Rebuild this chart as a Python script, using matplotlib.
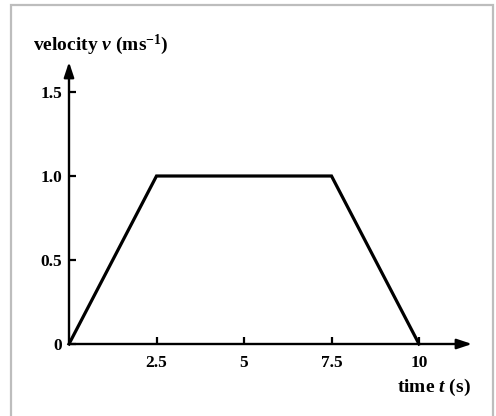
import matplotlib
matplotlib.use("Agg")
import matplotlib.pyplot as plt
from matplotlib.patches import Rectangle

# velocity-time graph
t = [0, 2.5, 7.5, 10]
v = [0, 1.0, 1.0, 0]
xticks = [2.5, 5, 7.5, 10]
xticklabels = ["2.5", "5", "7.5", "10"]
yticks = [0, 0.5, 1.0, 1.5]
yticklabels = ["0", "0.5", "1.0", "1.5"]

plt.rcParams["font.family"] = "Liberation Serif"
plt.rcParams["font.weight"] = "bold"
plt.rcParams["mathtext.fontset"] = "custom"
plt.rcParams["mathtext.rm"] = "Liberation Serif:bold"
plt.rcParams["mathtext.bf"] = "Liberation Serif:bold"
plt.rcParams["mathtext.it"] = "Liberation Serif:italic:bold"

W, H = 496, 416
fig = plt.figure(figsize=(W / 100, H / 100), dpi=100)

# grey frame around the figure
fig.patches.append(Rectangle((11 / W, -0.05), (493 - 11) / W, (411 - 0) / H + 0.05,
                             transform=fig.transFigure, fill=False,
                             edgecolor="#bdbdbd", linewidth=1.6))

x0, y0, x1, y1 = 69, 344, 472, 62
ax = fig.add_axes([x0 / W, (H - y0) / H, (x1 - x0) / W, (y0 - y1) / H])
xmax = (x1 - x0) / 35.0
ymax = (y0 - y1) / 168.0
ax.set_xlim(0, xmax)
ax.set_ylim(0, ymax)
for s in ax.spines.values():
    s.set_visible(False)

arrow = dict(arrowstyle="-|>,head_length=0.9,head_width=0.3", color="black",
             linewidth=1.7, shrinkA=0, shrinkB=0)
ax.annotate("", xy=(xmax, 0), xytext=(0, 0), arrowprops=arrow, annotation_clip=False)
ax.annotate("", xy=(0, ymax), xytext=(0, 0), arrowprops=arrow, annotation_clip=False)

ax.plot(t, v, color="black", linewidth=2.3, solid_joinstyle="miter", clip_on=False)

ax.set_xticks(xticks)
ax.set_xticklabels(xticklabels)
ax.set_yticks(yticks)
ax.set_yticklabels(yticklabels)
ax.tick_params(axis="x", direction="in", length=5, width=1.6, pad=8, labelsize=12.5)
ax.tick_params(axis="y", direction="in", length=5, width=1.6, pad=5, labelsize=12.5)

fig.text(33 / W, (H - 45) / H, r"velocity $v$ (ms$^{\mathbf{-1}}$)", fontsize=14,
         ha="left", va="center")
fig.text(471 / W, (H - 387) / H, r"time $t$ (s)", fontsize=14,
         ha="right", va="center")

fig.savefig("out.png", dpi=100)
